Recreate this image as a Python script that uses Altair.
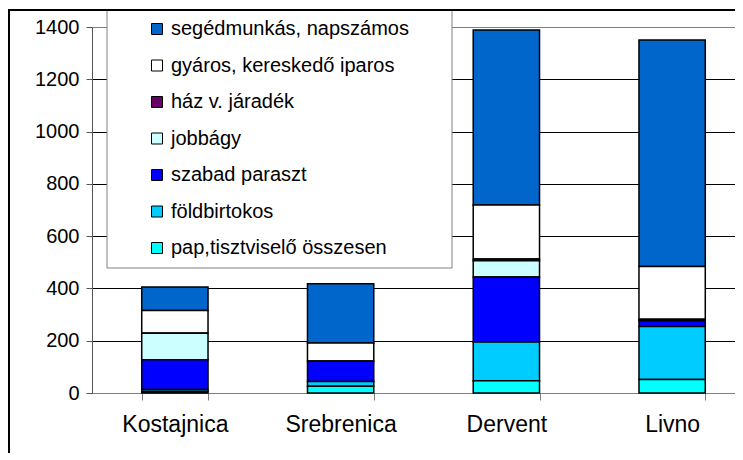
import altair as alt
import pandas as pd

towns = ["Kostajnica", "Srebrenica", "Dervent", "Livno"]
series = ["segédmunkás, napszámos", "gyáros, kereskedő iparos", "ház v. járadék",
          "jobbágy", "szabad paraszt", "földbirtokos", "pap,tisztviselő összesen"]
colors = ["#0066CC", "#FFFFFF", "#660066", "#CCFFFF", "#0000FF", "#00CCFF", "#00FFFF"]

seged = [89, 227, 670, 866]
gyaros = [87, 70, 206, 202]
haz = [0, 0, 7, 6]
jobbagy = [102, 0, 62, 0]
szabad = [114, 77, 249, 22]
fold = [7, 18, 148, 202]
pap = [6, 26, 47, 52]

values = [seged, gyaros, haz, jobbagy, szabad, fold, pap]
rows = []
for si, (name, vals) in enumerate(zip(series, values)):
    for town, v in zip(towns, vals):
        rows.append({"town": town, "series": name, "value": v, "order": len(series) - si})
df = pd.DataFrame(rows)

FONT = "Liberation Sans"

bars = alt.Chart(df).mark_bar(stroke="black", strokeWidth=1.5).encode(
    x=alt.X("town:N", sort=towns,
            scale=alt.Scale(domain=towns, range=[0, 663], paddingInner=0.6, paddingOuter=0.3),
            axis=alt.Axis(title=None, labelAngle=0, tickBand="extent", grid=False,
                          domainColor="#808080", tickColor="#808080", tickSize=7,
                          labelFontSize=23, labelFont=FONT, labelColor="black",
                          labelPadding=13, labelLimit=300)),
    y=alt.Y("value:Q", stack="zero",
            scale=alt.Scale(domain=[0, 1400], nice=False),
            axis=alt.Axis(title=None, values=[0, 200, 400, 600, 800, 1000, 1200, 1400],
                          format="d", grid=True,
                          gridColor={"condition": {"test": "datum.value == 1400", "value": "#808080"}, "value": "black"},
                          domainColor="#555555", tickColor="#555555", tickSize=6,
                          labelFontSize=20, labelFont=FONT, labelColor="black",
                          labelPadding=7)),
    fill=alt.Fill("series:N", scale=alt.Scale(domain=series, range=colors),
                  legend=alt.Legend(orient="none", legendX=55, legendY=-8, title=None,
                                    symbolType="square", symbolSize=121,
                                    symbolStrokeColor="black", symbolStrokeWidth=1,
                                    labelFontSize=20, labelFont=FONT, labelColor="black",
                                    labelLimit=400,
                                    rowPadding=16.5, labelOffset=4, padding=0)),
    order=alt.Order("order:Q", sort="ascending"),
)

deco = pd.DataFrame({"k": [0]})
legend_box = alt.Chart(deco).mark_rect(fill="white", stroke="#808080", strokeWidth=1).encode(
    x=alt.value(15), x2=alt.value(360), y=alt.value(-17), y2=alt.value(241))
border = alt.Chart(deco).mark_rect(fillOpacity=0, stroke="black", strokeWidth=2).encode(
    x=alt.value(-83), x2=alt.value(800), y=alt.value(-17), y2=alt.value(600))

chart = alt.layer(legend_box, bars, border).properties(
    width=643, height=366,
    autosize=alt.AutoSizeParams(type="none"),
    padding={"left": 84, "top": 19, "right": 0, "bottom": 60},
).configure_view(stroke=None)

chart.save("out.html", embed_options={"renderer": "svg", "actions": False})
